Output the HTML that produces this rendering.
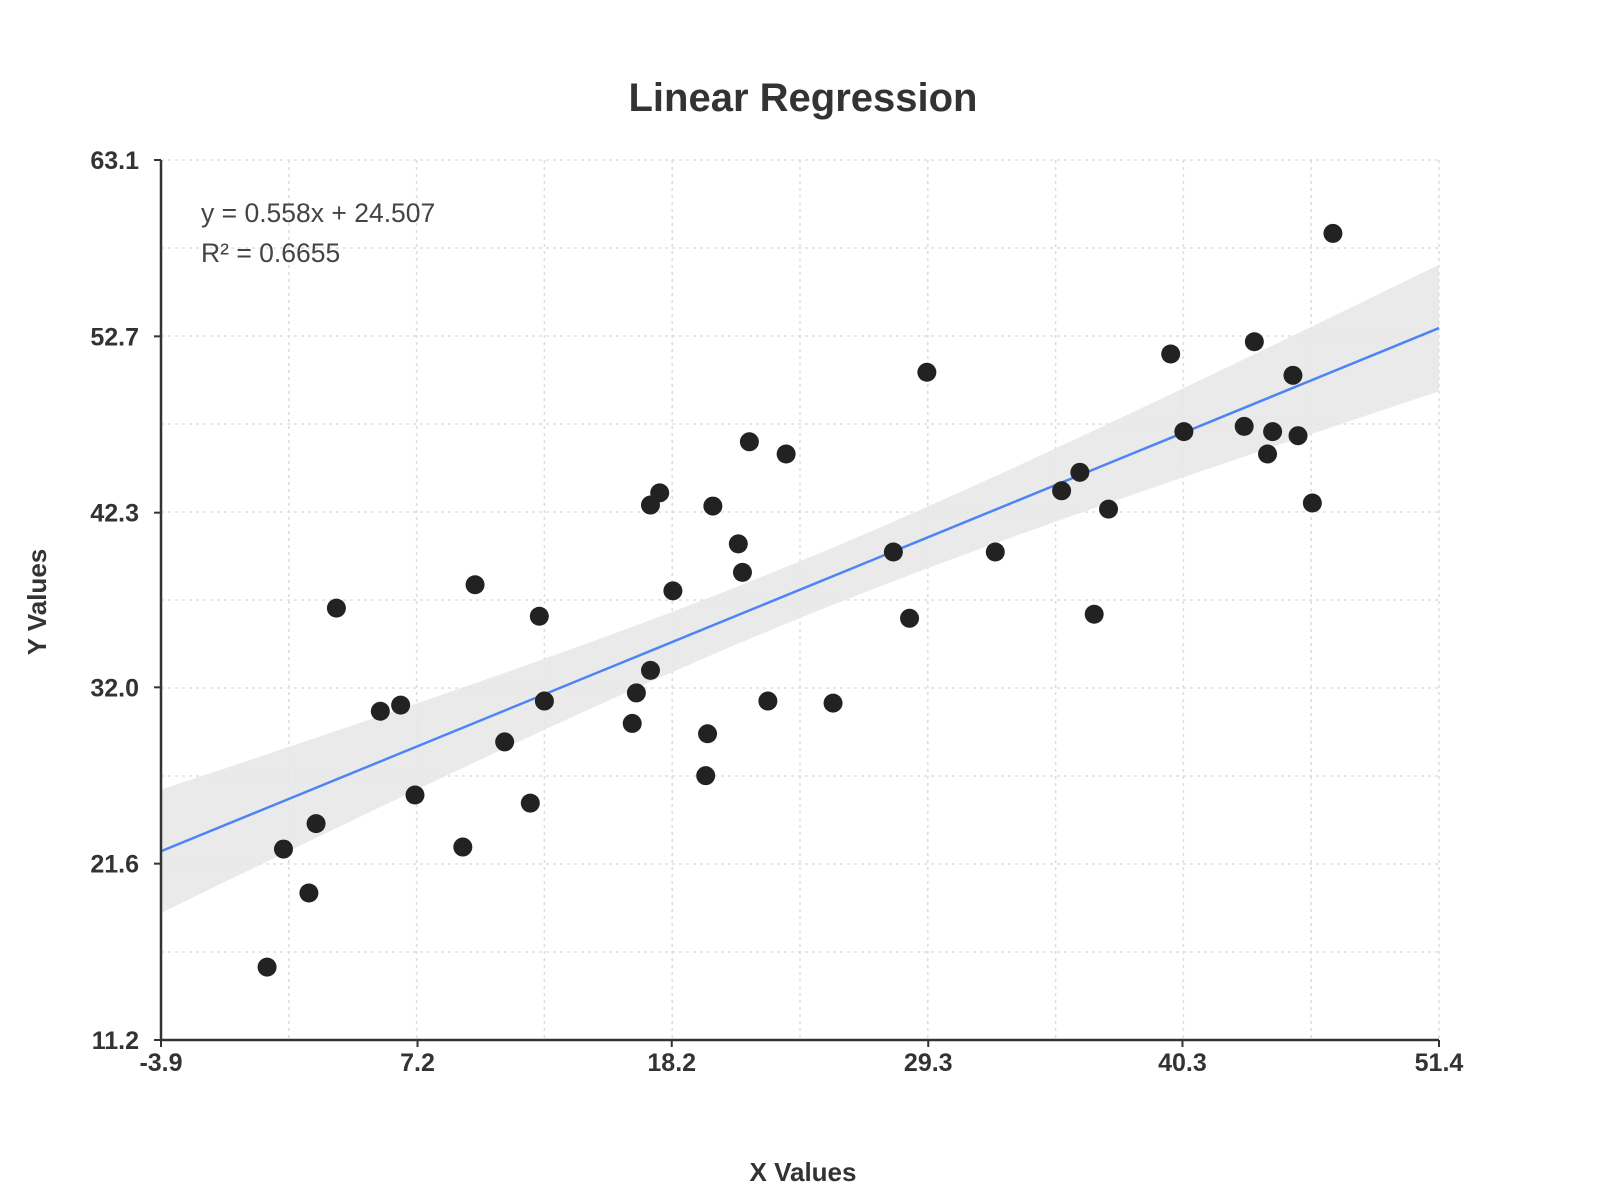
<!DOCTYPE html>
<html><head><meta charset="utf-8"><style>
html,body{margin:0;padding:0;background:#fff;}
svg{display:block;font-family:"Liberation Sans",Arial,sans-serif;}
</style></head><body>
<svg id="chart" width="1600" height="1200">
<text x="803" y="111" text-anchor="middle" font-size="40" font-weight="bold" fill="#333">Linear Regression</text>
<g id="grid"></g><g id="band"></g><g id="line"></g><g id="points"></g><g id="axes"></g>
<text x="201" y="222" font-size="26.5" fill="#444">y = 0.558x + 24.507</text>
<text x="201" y="262" font-size="26.5" fill="#444">R² = 0.6655</text>
<text x="803" y="1181" text-anchor="middle" font-size="26" font-weight="bold" fill="#333">X Values</text>
<text transform="translate(46,602) rotate(-90)" text-anchor="middle" font-size="26" font-weight="bold" fill="#333">Y Values</text>
</svg>
<script>
const xs=[0.69,1.4,2.5,2.81,3.69,5.59,6.47,7.09,9.16,9.69,10.97,12.08,12.47,12.69,16.49,16.67,17.28,17.28,17.68,18.25,19.67,19.75,19.98,21.08,21.26,21.56,22.36,23.15,25.18,27.79,28.49,29.24,32.2,35.07,35.86,36.48,37.1,39.79,40.36,42.97,43.41,43.98,44.2,45.08,45.3,45.92,46.81];
const ys=[15.5,22.46,19.87,23.96,36.67,30.59,30.95,25.65,22.58,38.05,28.78,25.17,36.19,31.19,29.87,31.67,33.0,42.75,43.47,37.69,26.79,29.26,42.69,40.46,38.78,46.48,31.19,45.76,31.07,39.98,36.07,50.58,39.98,43.59,44.68,36.31,42.51,51.66,47.08,47.39,52.38,45.76,47.08,50.4,46.84,42.87,58.77];
const xTicks=["-3.9","7.2","18.2","29.3","40.3","51.4"];
const yTicks=["11.2","21.6","32.0","42.3","52.7","63.1"];
const slope=0.558, intercept=24.507;
const xMin=-3.9,xMax=51.4,yMin=11.2,yMax=63.1;
const L=161,R=1439,T=160,B=1040;
const sx=v=>L+(v-xMin)/(xMax-xMin)*(R-L);
const sy=v=>B-(v-yMin)/(yMax-yMin)*(B-T);
const NS="http://www.w3.org/2000/svg";
function mk(tag,attrs,parent){const e=document.createElementNS(NS,tag);for(const k in attrs)e.setAttribute(k,attrs[k]);document.getElementById(parent).appendChild(e);return e;}
for(let i=0;i<=10;i++){
 const gx=L+(R-L)*i/10, gy=T+(B-T)*i/10;
 const a=mk('line',{x1:gx,y1:T,x2:gx,y2:B,stroke:'#ddd','stroke-width':1.5,'stroke-dasharray':'3,4'},'grid');
 
 
 const b=mk('line',{x1:L,y1:gy,x2:R,y2:gy,stroke:'#ddd','stroke-width':1.5,'stroke-dasharray':'3,4'},'grid');
 
 
}
const n=xs.length, xm=xs.reduce((a,b)=>a+b,0)/n;
const sxx=xs.reduce((a,b)=>a+(b-xm)*(b-xm),0);
let sse=0;for(let i=0;i<n;i++){const r=ys[i]-(slope*xs[i]+intercept);sse+=r*r;}
const s=Math.sqrt(sse/(n-2)), t=2.014;
let up=[],dn=[];
for(let i=0;i<=60;i++){const x=xMin+(xMax-xMin)*i/60;const yh=slope*x+intercept;const hw=t*s*Math.sqrt(1/n+(x-xm)*(x-xm)/sxx);up.push(sx(x)+','+sy(yh+hw));dn.unshift(sx(x)+','+sy(yh-hw));}
const band=mk('polygon',{points:up.concat(dn).join(' '),fill:'#e6e6e6','fill-opacity':0.85},'band');


const rl=mk('line',{x1:sx(xMin),y1:sy(slope*xMin+intercept),x2:sx(xMax),y2:sy(slope*xMax+intercept),stroke:'#4d84f5','stroke-width':2.5},'line');


for(let i=0;i<n;i++){
 const c=mk('circle',{cx:sx(xs[i]),cy:sy(ys[i]),r:9.5,fill:'#222'},'points');
 
 
}
const ax=mk('line',{x1:L,y1:B,x2:R,y2:B,stroke:'#333','stroke-width':2.5},'axes');


const ay=mk('line',{x1:L,y1:T,x2:L,y2:B,stroke:'#333','stroke-width':2.5},'axes');


xTicks.forEach((lab,i)=>{
 const v=parseFloat(lab);
 mk('line',{x1:sx(v),y1:B,x2:sx(v),y2:B+7,stroke:'#333','stroke-width':2},'axes');
 const tx=mk('text',{x:sx(v),y:B+31,'text-anchor':'middle','font-size':25,'font-weight':'bold',fill:'#333'},'axes');
 tx.textContent=lab;
 
 
});
yTicks.forEach((lab,i)=>{
 const v=parseFloat(lab);
 mk('line',{x1:L-7,y1:sy(v),x2:L,y2:sy(v),stroke:'#333','stroke-width':2},'axes');
 const ty=mk('text',{x:L-22,y:sy(v)+9,'text-anchor':'end','font-size':25,'font-weight':'bold',fill:'#333'},'axes');
 ty.textContent=lab;
 
 
});
</script>
</body></html>
